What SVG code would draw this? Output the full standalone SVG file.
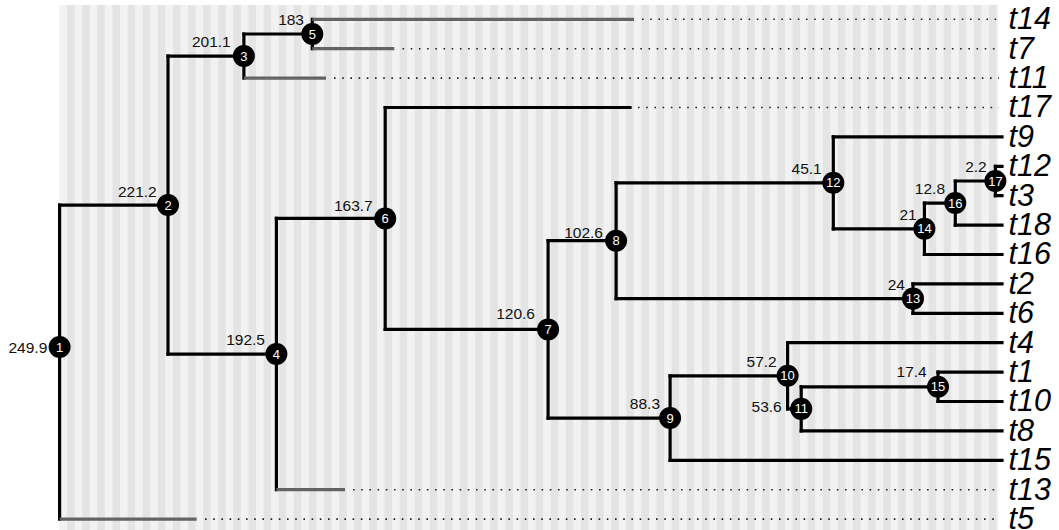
<svg xmlns="http://www.w3.org/2000/svg" width="1059" height="530" viewBox="0 0 1059 530">
<defs>
<pattern id="stripes" x="59.6" y="0" width="15.112" height="20" patternUnits="userSpaceOnUse">
<rect x="0" y="0" width="7.556" height="20" fill="#f2f2f2"/>
<rect x="7.556" y="0" width="7.556" height="20" fill="#e4e4e4"/>
</pattern>
</defs>
<style>
.e{stroke:#000;stroke-width:3.2;fill:none;stroke-linecap:square}
.x{stroke:#646464;stroke-width:3.2;fill:none;stroke-linecap:butt}
.d{stroke:#222;stroke-width:1.6;fill:none;stroke-dasharray:1.6 6.6}
.n circle{fill:#000}
.n text{fill:#fff;font-family:"Liberation Sans",Arial,sans-serif;font-size:13px;text-anchor:middle}
.lab{fill:#111;font-family:"Liberation Sans",Arial,sans-serif;font-size:15.5px;text-anchor:end}
.tip{fill:#000;font-family:"Liberation Sans",Arial,sans-serif;font-size:30.5px;font-style:italic}
</style>
<rect x="59.6" y="5" width="938.4" height="525" fill="url(#stripes)"/>
<g id="connectors">
<path class="e" d="M59.6 205.05V519.1M168 56.05V354.05M243.9 34V78.1M312.3 19.3V48.7M276.4 218.44V489.7M385.2 107.5V329.38M548.1 240.72V418.04M616.1 182.84V298.6M833.3 136.9V228.78M924.4 203.05V254.5M955.3 181V225.1M995.4 166.3V195.7M913 283.9V313.3M670.1 375.78V460.3M787.6 342.7V408.85M801.2 386.8V430.9M938 372.1V401.5"/>
<path class="e" d="M59.6 205.05H168M168 56.05H243.9M168 354.05H276.4M243.9 34H312.3M276.4 218.44H385.2M385.2 107.5H630M385.2 329.38H548.1M548.1 240.72H616.1M548.1 418.04H670.1M616.1 182.84H833.3M616.1 298.6H913M833.3 136.9H1002M833.3 228.78H924.4M924.4 203.05H955.3M924.4 254.5H1002M955.3 181H995.4M955.3 225.1H1002M995.4 166.3H1002M995.4 195.7H1002M913 283.9H1002M913 313.3H1002M670.1 375.78H787.6M670.1 460.3H1002M787.6 342.7H1002M787.6 408.85H801.2M801.2 386.8H938M801.2 430.9H1002M938 372.1H1002M938 401.5H1002"/>
<path class="x" d="M59.6 519.1H196.7M243.9 78.1H326M312.3 19.3H634M312.3 48.7H394.3M276.4 489.7H345"/>
<path class="d" d="M642 19.3H999M402.5 48.7H999M334 78.1H999M638 107.5H999M353 489.7H999M205 519.1H999"/>
</g>
<g id="node1" class="n"><circle cx="59.6" cy="347" r="11"/><text x="59.6" y="351.6">1</text></g>
<g id="node2" class="n"><circle cx="168" cy="205.05" r="11"/><text x="168" y="209.6">2</text></g>
<g id="node3" class="n"><circle cx="243.9" cy="56.05" r="11"/><text x="243.9" y="60.6">3</text></g>
<g id="node4" class="n"><circle cx="276.4" cy="354.05" r="11"/><text x="276.4" y="358.6">4</text></g>
<g id="node5" class="n"><circle cx="312.3" cy="34" r="11"/><text x="312.3" y="38.6">5</text></g>
<g id="node6" class="n"><circle cx="385.2" cy="218.44" r="11"/><text x="385.2" y="223">6</text></g>
<g id="node7" class="n"><circle cx="548.1" cy="329.38" r="11"/><text x="548.1" y="334">7</text></g>
<g id="node8" class="n"><circle cx="616.1" cy="240.72" r="11"/><text x="616.1" y="245.3">8</text></g>
<g id="node9" class="n"><circle cx="670.1" cy="418.04" r="11"/><text x="670.1" y="422.6">9</text></g>
<g id="node10" class="n"><circle cx="787.6" cy="375.78" r="11"/><text x="787.6" y="380.4">10</text></g>
<g id="node11" class="n"><circle cx="801.2" cy="408.85" r="11"/><text x="801.2" y="413.4">11</text></g>
<g id="node12" class="n"><circle cx="833.3" cy="182.84" r="11"/><text x="833.3" y="187.4">12</text></g>
<g id="node13" class="n"><circle cx="913" cy="298.6" r="11"/><text x="913" y="303.2">13</text></g>
<g id="node14" class="n"><circle cx="924.4" cy="228.78" r="11"/><text x="924.4" y="233.4">14</text></g>
<g id="node15" class="n"><circle cx="938" cy="386.8" r="11"/><text x="938" y="391.4">15</text></g>
<g id="node16" class="n"><circle cx="955.3" cy="203.05" r="11"/><text x="955.3" y="207.6">16</text></g>
<g id="node17" class="n"><circle cx="995.4" cy="181" r="11"/><text x="995.4" y="185.6">17</text></g>
<g id="nodelabels">
<text class="lab" x="47.3" y="353.3">249.9</text>
<text class="lab" x="156.7" y="196.7">221.2</text>
<text class="lab" x="230.7" y="46.7">201.1</text>
<text class="lab" x="265" y="345">192.5</text>
<text class="lab" x="304" y="25">183</text>
<text class="lab" x="372.7" y="210.7">163.7</text>
<text class="lab" x="535" y="319.3">120.6</text>
<text class="lab" x="603" y="237.5">102.6</text>
<text class="lab" x="660" y="409.3">88.3</text>
<text class="lab" x="776.7" y="366.7">57.2</text>
<text class="lab" x="781.7" y="411.7">53.6</text>
<text class="lab" x="821.7" y="174">45.1</text>
<text class="lab" x="905" y="290">24</text>
<text class="lab" x="916.7" y="220">21</text>
<text class="lab" x="926.7" y="377.3">17.4</text>
<text class="lab" x="945" y="194.3">12.8</text>
<text class="lab" x="986.7" y="171.7">2.2</text>
</g>
<g id="tips">
<text class="tip" x="1008.5" y="29.1">t14</text>
<text class="tip" x="1008.5" y="58.5">t7</text>
<text class="tip" x="1008.5" y="87.9">t11</text>
<text class="tip" x="1008.5" y="117.3">t17</text>
<text class="tip" x="1008.5" y="146.7">t9</text>
<text class="tip" x="1008.5" y="176.1">t12</text>
<text class="tip" x="1008.5" y="205.5">t3</text>
<text class="tip" x="1008.5" y="234.9">t18</text>
<text class="tip" x="1008.5" y="264.3">t16</text>
<text class="tip" x="1008.5" y="293.7">t2</text>
<text class="tip" x="1008.5" y="323.1">t6</text>
<text class="tip" x="1008.5" y="352.5">t4</text>
<text class="tip" x="1008.5" y="381.9">t1</text>
<text class="tip" x="1008.5" y="411.3">t10</text>
<text class="tip" x="1008.5" y="440.7">t8</text>
<text class="tip" x="1008.5" y="470.1">t15</text>
<text class="tip" x="1008.5" y="499.5">t13</text>
<text class="tip" x="1008.5" y="528.6">t5</text>
</g>
</svg>
